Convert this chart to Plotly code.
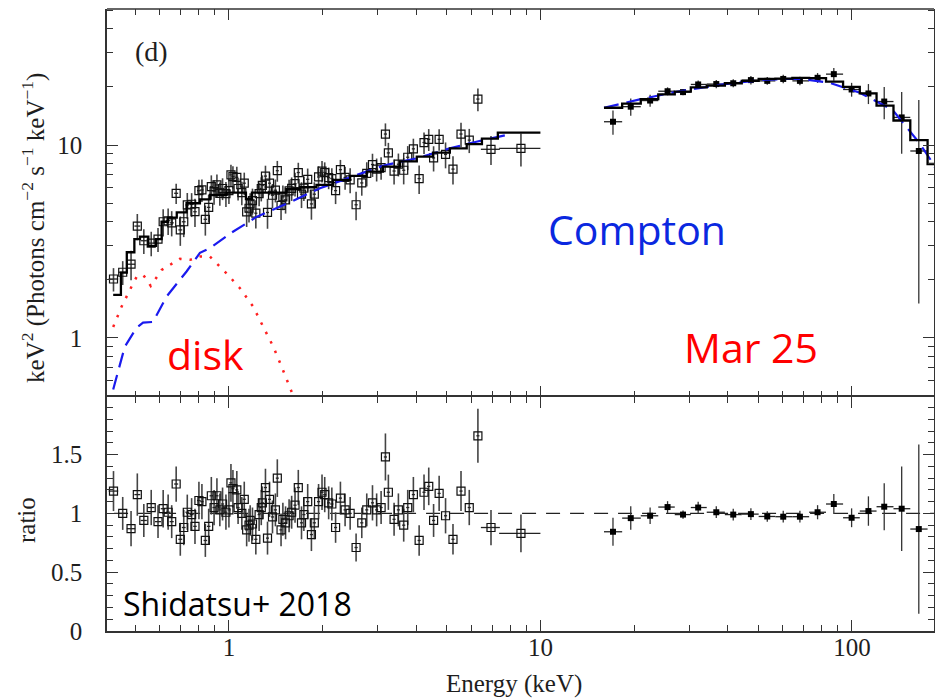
import plotly.graph_objects as go
import math

# ---------------- soft X-ray data (open squares) ----------------
soft_E = [0.426,0.456,0.485,0.508,0.533,0.563,0.592,0.615,0.638,0.655,
          0.677,0.698,0.716,0.735,0.759,0.778,0.801,0.819,0.840,0.861,
          0.878,0.896,0.915,0.935,0.954,0.978,1.00,1.015,1.03,1.06,
          1.07,1.10,1.12,1.14,1.16,1.17,1.19,1.22,1.25,1.27,
          1.28,1.31,1.33,1.35,1.38,1.41,1.43,1.47,1.49,1.52,
          1.56,1.59,1.63,1.67,1.71,1.74,1.79,1.84,1.88,1.94,
          1.99,2.03,2.09,2.14,2.20,2.28,2.36,2.45,2.56,2.67,
          2.77,2.89,2.98,3.08,3.18,3.25,3.39,3.50,3.64,3.75,
          3.91,4.08,4.23,4.38,4.54,4.73,4.96,5.24,5.56,5.91,
          6.30,6.94,8.66]
soft_flux = [2.02,2.19,2.41,3.80,3.19,3.10,3.25,4.00,4.05,3.95,
             5.62,3.63,4.00,4.89,4.93,4.51,5.80,5.85,4.12,4.75,
             6.08,5.73,6.21,5.62,5.95,5.60,5.80,7.00,6.85,6.80,
             5.95,5.66,6.34,4.50,4.70,4.95,5.15,4.43,5.60,5.95,
             6.17,6.90,4.47,6.34,5.49,5.83,7.36,4.87,5.38,5.20,
             5.78,5.96,6.30,7.20,5.56,5.98,6.64,4.95,5.56,6.83,
             7.33,7.20,6.77,6.70,5.80,7.45,6.79,6.60,4.90,6.36,
             7.12,7.92,7.49,7.63,11.4,9.10,7.33,7.95,7.40,8.64,
             9.55,6.70,10.3,10.7,8.57,10.7,8.94,7.50,11.4,10.6,
             17.3,9.50,9.60]
soft_flux_err = [0.28,0.31,0.42,0.59,0.47,0.45,0.46,0.64,0.63,0.59,
                 0.67,0.63,0.67,0.75,0.70,0.75,0.80,0.78,0.73,0.78,
                 0.88,0.83,0.83,0.77,0.77,0.83,0.85,0.91,0.91,0.91,
                 0.79,0.79,0.85,0.74,0.74,0.68,0.79,0.74,0.79,0.85,
                 0.79,0.91,0.79,0.85,0.79,0.79,0.91,0.79,0.79,0.79,
                 0.83,0.83,0.89,0.89,0.85,0.85,0.91,0.85,0.85,0.93,
                 0.93,0.93,0.87,0.87,0.86,0.92,0.92,0.97,0.83,0.90,
                 1.02,1.09,1.02,1.02,1.54,1.16,1.08,1.08,1.15,1.23,
                 1.23,1.13,1.31,1.39,1.28,1.37,1.37,1.25,1.63,1.52,
                 2.32,1.62,1.86]
soft_ratio = [1.19,1.00,0.87,1.16,0.94,1.05,0.93,1.04,1.01,0.93,
              1.25,0.78,0.88,1.01,0.99,0.89,1.11,1.10,0.77,0.89,
              1.15,1.05,1.15,1.03,1.08,1.01,1.03,1.26,1.21,1.20,
              1.05,1.00,1.12,0.86,0.90,0.94,0.91,0.78,0.99,1.05,
              1.09,1.22,0.79,1.12,0.97,1.03,1.30,0.86,0.95,0.92,
              0.98,1.01,1.07,1.22,0.92,0.99,1.10,0.82,0.92,1.10,
              1.18,1.16,1.09,1.08,0.88,1.13,1.03,1.00,0.71,0.92,
              1.03,1.09,1.03,1.05,1.48,1.18,0.95,1.03,0.90,1.05,
              1.16,0.77,1.18,1.23,0.94,1.17,0.98,0.78,1.19,1.05,
              1.66,0.88,0.83]
soft_ratio_err = [0.17,0.14,0.15,0.18,0.14,0.15,0.14,0.16,0.15,0.14,
                  0.15,0.14,0.15,0.15,0.14,0.15,0.16,0.15,0.14,0.15,
                  0.16,0.15,0.15,0.14,0.14,0.15,0.15,0.16,0.16,0.16,
                  0.14,0.14,0.15,0.14,0.14,0.13,0.14,0.13,0.14,0.15,
                  0.14,0.16,0.14,0.15,0.14,0.14,0.16,0.14,0.14,0.14,
                  0.14,0.14,0.15,0.15,0.14,0.14,0.15,0.14,0.14,0.15,
                  0.15,0.15,0.14,0.14,0.13,0.14,0.14,0.14,0.12,0.13,
                  0.14,0.15,0.14,0.14,0.20,0.15,0.14,0.14,0.14,0.15,
                  0.15,0.13,0.15,0.16,0.14,0.15,0.15,0.13,0.17,0.15,
                  0.23,0.15,0.16]
# energy half-widths of the bins (keV): minus / plus
soft_dE_minus = [0.015,0.014,0.015,0.011,0.012,0.014,0.013,0.011,0.011,0.010,
                 0.010,0.010,0.010,0.010,0.011,0.010,0.011,0.010,0.011,0.011,
                 0.011,0.011,0.011,0.011,0.011,0.012,0.012,0.012,0.012,0.012,
                 0.012,0.013,0.013,0.013,0.013,0.013,0.014,0.014,0.014,0.014,
                 0.015,0.015,0.015,0.015,0.016,0.016,0.016,0.017,0.017,0.017,
                 0.018,0.018,0.019,0.019,0.020,0.020,0.021,0.021,0.022,0.022,
                 0.023,0.023,0.024,0.025,0.025,0.026,0.027,0.028,0.030,0.031,
                 0.032,0.033,0.034,0.035,0.037,0.038,0.039,0.040,0.042,0.043,
                 0.045,0.047,0.049,0.050,0.052,0.054,0.057,0.060,0.064,0.068,
                 0.072,0.50,1.29]
soft_dE_plus = soft_dE_minus[:-2] + [0.47, 1.34]

# ---------------- hard X-ray data (filled squares) ----------------
hard_E = [17.1,19.5,22.5,25.6,28.7,32.1,36.7,41.6,47.4,53.5,
          60.2,68.1,77.6,87.5,99.8,113,127,144.5,164]
hard_lo = [16.0,18.3,21.0,23.9,27.0,30.4,34.2,39.1,44.3,50.2,
           56.8,64.4,72.9,82.6,93.7,106,120,136,154]
hard_hi = [18.3,21.0,23.9,27.0,30.4,34.2,39.1,44.3,50.2,56.8,
           64.4,72.9,82.6,93.7,106,120,136,154,175]
hard_flux = [13.2,15.8,17.0,19.0,18.8,20.6,20.7,20.9,21.7,21.5,
             22.0,21.5,22.3,23.3,19.4,18.5,16.8,13.9,9.31]
hard_flux_err = [1.9,1.6,1.2,0.9,0.7,1.0,1.0,1.0,1.1,1.0,
                 1.1,1.1,1.3,1.8,1.6,2.2,3.2,4.9,7.8]
hard_ratio = [0.844,0.96,0.98,1.054,0.99,1.05,1.01,0.99,0.994,0.974,
              0.972,0.972,1.01,1.08,0.963,1.02,1.057,1.04,0.867]
hard_ratio_err = [0.12,0.10,0.07,0.05,0.035,0.05,0.05,0.05,0.05,0.045,
                  0.05,0.05,0.06,0.085,0.08,0.125,0.2,0.36,0.72]

# ---------------- models ----------------
soft_model_E = [0.425,0.450,0.470,0.497,0.518,0.551,0.583,0.608,0.637,0.680,
                0.731,0.807,0.869,0.983,1.134,1.185,1.53,1.69,1.91,2.16,
                2.45,2.77,3.12,3.54,4.01,4.52,5.12,5.80,6.49,7.30,10.0]
soft_model_V = [1.67,2.18,2.78,3.25,3.35,3.0,3.25,4.0,4.2,4.48,
                4.99,5.23,5.51,5.66,5.25,5.66,5.9,6.04,6.21,6.59,
                6.91,7.27,7.72,8.23,8.70,9.12,9.61,10.1,10.8,11.6,11.6]
hard_model_edges = [16.0,18.3,21.0,23.9,27.0,30.4,34.2,39.1,44.3,50.2,
                    56.8,64.4,72.9,82.6,93.7,106,120,136,154,175,190]
hard_model_V = [15.6,16.4,17.3,18.3,18.9,19.9,20.3,20.9,21.5,22.0,
                22.1,22.3,22.2,21.3,20.0,18.5,16.0,13.4,10.6,7.97]

compton_soft_E = [0.425,0.463,0.505,0.530,0.570,0.631,0.731,0.807,0.869,1.03,
                  1.23,1.57,1.96,2.50,3.12,4.00,5.12,6.23,7.86]
compton_soft_V = [0.54,0.90,1.13,1.20,1.21,1.64,2.21,2.76,2.92,3.55,
                  4.25,5.05,5.97,6.85,7.81,8.53,9.61,10.4,11.3]
compton_hard_E = [16.0,21.0,27.6,39.1,52.6,67.3,84.8,105.6,135.1,149.2,165,182,190]
compton_hard_V = [15.6,17.3,18.9,20.7,21.8,22.1,21.0,18.7,15.2,12.4,10.2,8.04,7.0]

disk_E = [0.425,0.452,0.487,0.506,0.531,0.561,0.608,0.696,0.750,0.807,
          0.869,0.983,1.085,1.197,1.289,1.388,1.476,1.589,1.70]
disk_V = [1.14,1.45,1.85,2.08,2.12,1.86,2.25,2.57,2.54,2.64,
          2.64,2.16,1.81,1.45,1.14,0.90,0.71,0.52,0.40]

ratio_ref = [1.0, 1.0]
ratio_ref_E = [0.3, 250]

# ---------------- figure ----------------
W, H = 935, 700
L, R, T, B = 107, 1, 9, 69
split = 234 / (H - T - B)

ink = "#1e1e1e"
frame = "#333333"
serif = "Liberation Serif, Times New Roman, serif"
sans = "Open Sans, Noto Sans, sans-serif"

fig = go.Figure()

# soft data, top panel
fig.add_trace(go.Scatter(
    x=soft_E, y=soft_flux, mode="markers", xaxis="x2", yaxis="y2",
    marker=dict(symbol="square-open", size=8, color="#111", line=dict(width=1.2)),
    error_y=dict(type="data", array=soft_flux_err, width=0, thickness=1.6, color="#444"),
    error_x=dict(type="data", array=soft_dE_plus, arrayminus=soft_dE_minus, width=0, thickness=1.3, color="#222"),
    showlegend=False))
# hard data, top panel
fig.add_trace(go.Scatter(
    x=hard_E, y=hard_flux, mode="markers", xaxis="x2", yaxis="y2",
    marker=dict(symbol="square", size=6, color="#000"),
    error_y=dict(type="data", array=hard_flux_err, width=0, thickness=1.3, color="#333"),
    error_x=dict(type="data", array=[h - e for h, e in zip(hard_hi, hard_E)],
                 arrayminus=[e - l for e, l in zip(hard_E, hard_lo)],
                 width=0, thickness=1.3, color="#222"),
    showlegend=False))
# compton
fig.add_trace(go.Scatter(x=compton_soft_E, y=compton_soft_V, mode="lines", xaxis="x2", yaxis="y2",
                         line=dict(color="#1a1aee", width=2.2, dash="15px,8px"), showlegend=False))
fig.add_trace(go.Scatter(x=compton_hard_E, y=compton_hard_V, mode="lines", xaxis="x2", yaxis="y2",
                         line=dict(color="#1a1aee", width=2.2, dash="15px,8px"), showlegend=False))
# disk
fig.add_trace(go.Scatter(x=disk_E, y=disk_V, mode="lines", xaxis="x2", yaxis="y2",
                         line=dict(color="#ff2020", width=2.5, dash="2.5px,8px"), showlegend=False))
# total model steps
fig.add_trace(go.Scatter(x=soft_model_E, y=soft_model_V, mode="lines", line_shape="hv",
                         xaxis="x2", yaxis="y2", line=dict(color="#000", width=2.3), showlegend=False))
fig.add_trace(go.Scatter(x=hard_model_edges, y=hard_model_V + [hard_model_V[-1]], mode="lines",
                         line_shape="hv", xaxis="x2", yaxis="y2",
                         line=dict(color="#000", width=2.3), showlegend=False))

# ratio panel
fig.add_trace(go.Scatter(x=ratio_ref_E, y=ratio_ref, mode="lines", xaxis="x", yaxis="y",
                         line=dict(color="#222", width=1.2, dash="14px,10px"), showlegend=False))
fig.add_trace(go.Scatter(
    x=soft_E, y=soft_ratio, mode="markers", xaxis="x", yaxis="y",
    marker=dict(symbol="square-open", size=8, color="#111", line=dict(width=1.2)),
    error_y=dict(type="data", array=soft_ratio_err, width=0, thickness=1.6, color="#444"),
    error_x=dict(type="data", array=soft_dE_plus, arrayminus=soft_dE_minus, width=0, thickness=1.3, color="#222"),
    showlegend=False))
fig.add_trace(go.Scatter(
    x=hard_E, y=hard_ratio, mode="markers", xaxis="x", yaxis="y",
    marker=dict(symbol="square", size=6, color="#000"),
    error_y=dict(type="data", array=hard_ratio_err, width=0, thickness=1.3, color="#333"),
    error_x=dict(type="data", array=[h - e for h, e in zip(hard_hi, hard_E)],
                 arrayminus=[e - l for e, l in zip(hard_E, hard_lo)],
                 width=0, thickness=1.3, color="#222"),
    showlegend=False))

x_range = [math.log10(0.406), math.log10(183.5)]
x_major = [1, 10, 100]
x_minor = [0.5, 0.6, 0.7, 0.8, 0.9, 2, 3, 4, 5, 6, 7, 8, 9, 20, 30, 40, 50, 60, 70, 80, 90]
y_major_top = [1, 10]
y_minor_top = [0.5, 0.6, 0.7, 0.8, 0.9, 2, 3, 4, 5, 6, 7, 8, 9, 20, 30, 40, 50]

def axis_common(showline=True):
    return dict(showline=showline, linecolor=frame, linewidth=1.5, mirror="ticks",
                ticks="inside", ticklen=11, tickwidth=1.3, tickcolor=frame,
                showgrid=False, zeroline=False, automargin=False,
                tickfont=dict(family=serif, size=25, color=ink))

fig.update_layout(
    width=W, height=H, margin=dict(l=L, r=R, t=T, b=B),
    paper_bgcolor="white", plot_bgcolor="white",
    xaxis=dict(type="log", range=x_range, domain=[0, 1], anchor="y",
               tickmode="array", tickvals=x_major, ticktext=["1", "10", "100"],
               minor=dict(tickmode="array", tickvals=x_minor, ticks="inside", ticklen=6,
                          tickwidth=1.2, tickcolor=frame),
               ticklabelstandoff=-7, **axis_common()),
    xaxis2=dict(type="log", range=x_range, domain=[0, 1], anchor="y2", matches="x",
                tickmode="array", tickvals=x_major, showticklabels=False,
                minor=dict(tickmode="array", tickvals=x_minor, ticks="inside", ticklen=6,
                           tickwidth=1.2, tickcolor=frame),
                **axis_common(False)),
    yaxis=dict(range=[0, 1.99], domain=[0, split], anchor="x",
               tickmode="array", tickvals=[0, 0.5, 1, 1.5], ticktext=["0", "0.5", "1", "1.5"],
               minor=dict(dtick=0.1, tick0=0, ticks="inside", ticklen=6, tickwidth=1.2, tickcolor=frame),
               ticklabelstandoff=18, **axis_common()),
    yaxis2=dict(type="log", range=[math.log10(0.494), 1.705], domain=[split, 1], anchor="x2",
                tickmode="array", tickvals=y_major_top, ticktext=["1", "10"],
                minor=dict(tickmode="array", tickvals=y_minor_top, ticks="inside", ticklen=6,
                           tickwidth=1.2, tickcolor=frame),
                ticklabelstandoff=18, **axis_common()),
)
# top border of the upper panel
fig.add_shape(type="line", xref="paper", yref="paper", x0=0, x1=1, y0=1, y1=1,
              line=dict(color=frame, width=1.5))

def px(xp, yp):
    return (xp - L) / (W - L - R), (H - B - yp) / (H - T - B)

def note(text, xp, yp, size, color, family, angle=0):
    ax, ay = px(xp, yp)
    fig.add_annotation(text=text, x=ax, y=ay, xref="paper", yref="paper",
                       xanchor="center", yanchor="middle", showarrow=False, textangle=angle,
                       font=dict(size=size, color=color, family=family))

note("Energy (keV)", 514, 684, 25, ink, serif)
note("keV<sup>2</sup> (Photons cm<sup>\u22122</sup> s<sup>\u22121</sup> keV<sup>\u22121</sup>)",
     33, 228, 25, ink, serif, angle=-90)
note("ratio", 26, 520, 25, ink, serif, angle=-90)
note("(d)", 151, 52, 28, ink, serif)
note("Compton", 637, 229, 41, "#0a28e0", sans)
note("disk", 205, 354, 41, "#ff0000", sans)
note("Mar 25", 751, 347, 41, "#ff0000", sans)
note("Shidatsu+ 2018", 237, 603, 32, "#000000", sans)

fig.write_html("out.html")
